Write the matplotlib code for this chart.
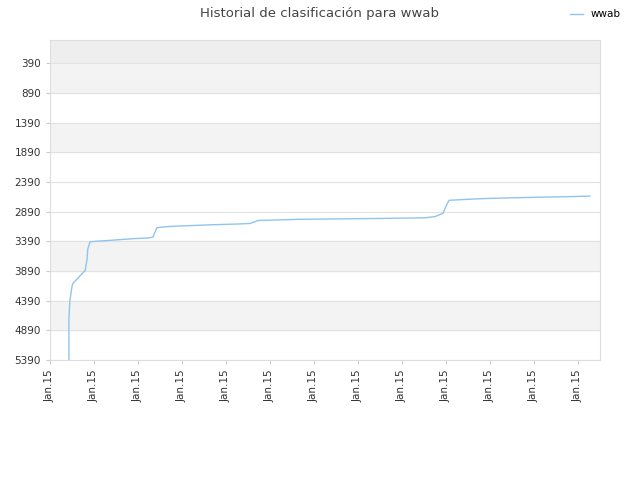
import matplotlib
matplotlib.use("Agg")
import matplotlib.pyplot as plt

tick_labels = ["Jan.15"] * 13
x = [0.43, 0.43, 0.45, 0.50, 0.52, 0.80, 0.84, 0.86, 0.91, 1.05, 1.36, 1.64, 1.93, 2.23, 2.34, 2.43, 2.73, 3.23, 3.75, 4.25, 4.55, 4.73, 5.68, 7.57, 8.52, 8.75, 8.93, 9.00, 9.07, 9.32, 9.89, 10.68, 11.70, 12.27]
rank = [5390, 4700, 4400, 4150, 4100, 3880, 3700, 3520, 3400, 3390, 3375, 3360, 3345, 3335, 3320, 3160, 3140, 3125, 3110, 3100, 3090, 3040, 3020, 3005, 2995, 2975, 2920, 2800, 2700, 2690, 2670, 2655, 2640, 2630]

fig = plt.figure(figsize=(6.4, 4.8), dpi=100)
ax = fig.add_axes([50/640, 1-360/480, 550/640, 320/480])
ax.set_ylim(5390, 0)
ax.set_xlim(0, 12.5)
yt = [390 + 500*i for i in range(11)]
ax.axhspan(0, 390, color="#eeeeee", zorder=0)
shade = [True, False, True, False, False, False, True, False, True, False]
for i in range(10):
    if shade[i]:
        ax.axhspan(yt[i], yt[i+1], color="#f3f3f3", zorder=0)
for v in yt:
    ax.axhline(v, color="#e2e2e2", lw=0.8, zorder=1)
ax.plot(x, rank, color="#90c4f0", lw=1, label="wwab", zorder=3)
ax.set_yticks(yt)
ax.set_yticklabels([str(v) for v in yt], fontsize=7.5, color="#333333")
ax.set_xticks(range(13))
ax.set_xticklabels(tick_labels, rotation=90, fontsize=7.5, color="#333333")
ax.tick_params(length=3, color="#cccccc")
for s in ax.spines.values():
    s.set_color("#dddddd")
fig.text(0.5, 1-13/480, "Historial de clasificación para wwab", ha="center", va="center", fontsize=9.5, color="#444444")
fig.legend(loc="upper right", bbox_to_anchor=(0.985, 1.0), frameon=False, fontsize=7.5, handlelength=1.2)
fig.savefig("out.png", dpi=100)
